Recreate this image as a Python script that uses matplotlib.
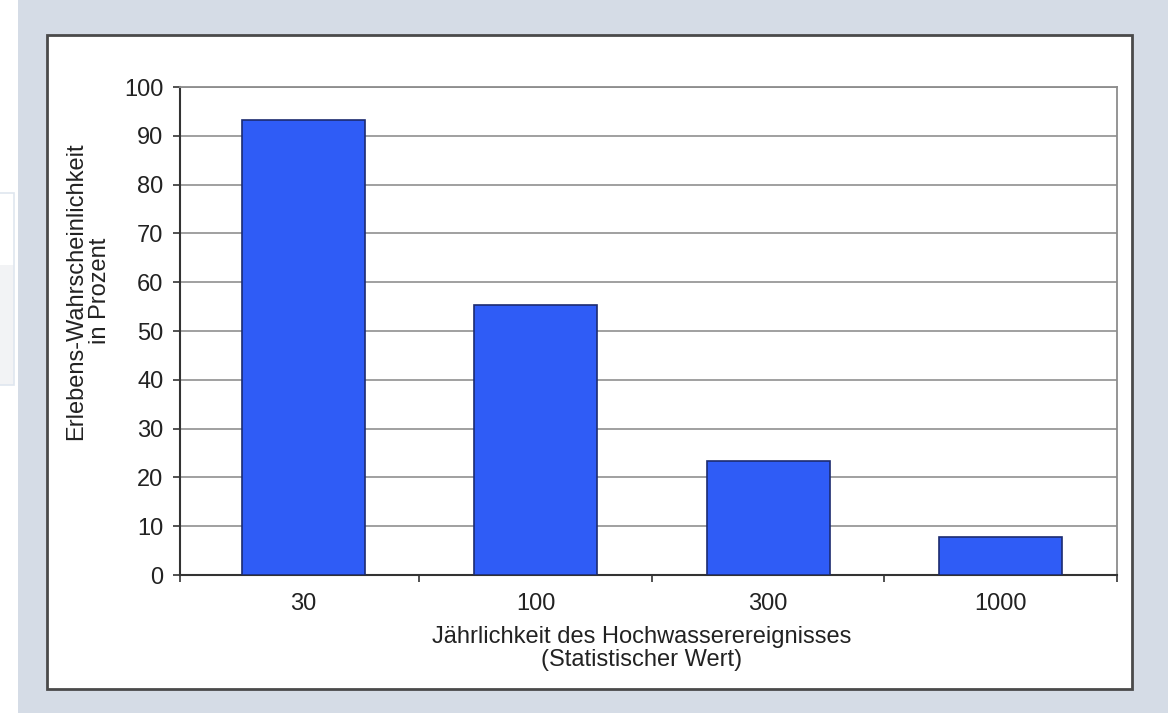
import matplotlib.pyplot as plt
from matplotlib.patches import Rectangle
import numpy as np

plt.rcParams['font.family'] = ['Liberation Sans', 'DejaVu Sans']

categories = ['30', '100', '300', '1000']
values = [93.3, 55.3, 23.3, 7.7]
y_ticks = [0, 10, 20, 30, 40, 50, 60, 70, 80, 90, 100]

W, H = 1168, 713
fig = plt.figure(figsize=(W / 100, H / 100), dpi=100, facecolor='#d5dce6')

def px(x0, y0, x1, y1):
    # pixel box -> figure fraction rect
    return (x0 / W, 1 - y1 / H, (x1 - x0) / W, (y1 - y0) / H)

def panel(box, **kw):
    l, b, w, h = px(*box)
    fig.patches.append(Rectangle((l, b), w, h, transform=fig.transFigure, zorder=-5, **kw))

# web page leftovers on the left edge
panel((0, 0, 18, H), facecolor='white', edgecolor='none')
panel((-2, 265, 14, 385), facecolor='#f2f3f5', edgecolor='none')
panel((-2, 193, 14, 385), facecolor='none', edgecolor='#dfe6ef', lw=1.2)

# white chart panel with dark frame
panel((47, 35, 1132, 689), facecolor='white', edgecolor='#4a4a4a', lw=2.0)

ax = fig.add_axes(px(180, 87, 1117, 575))
x = np.arange(len(categories))
ax.bar(x, values, width=0.53, color='#2f5cf6', edgecolor='#1c2b70', linewidth=1.2, zorder=3)

ax.set_xlim(-0.53, len(categories) - 0.5)
ax.set_ylim(0, 100)
ax.set_yticks(y_ticks)
ax.set_xticks(x)
ax.set_xticklabels(categories)
ax.set_xticks([-0.53, 0.5, 1.5, 2.5, 3.5], minor=True)
ax.tick_params(axis='x', which='major', length=0, pad=13, labelsize=17, labelcolor='#222222')
ax.tick_params(axis='x', which='minor', length=5, width=1.2, color='#333333')
ax.tick_params(axis='y', length=5, width=1.2, color='#333333', pad=7, labelsize=17, labelcolor='#222222')

ax.yaxis.grid(True, color='#999999', lw=1.3, zorder=0)
ax.set_axisbelow(True)
for s in ['left', 'bottom']:
    ax.spines[s].set_color('#333333')
    ax.spines[s].set_linewidth(1.5)
for s in ['top', 'right']:
    ax.spines[s].set_color('#8c8c8c')
    ax.spines[s].set_linewidth(1.3)

ax.set_xlabel('Jährlichkeit des Hochwasserereignisses\n(Statistischer Wert)',
              fontsize=17, color='#222222', linespacing=1.05)
ax.xaxis.label.set_va('top')
ax.xaxis.set_label_coords(0.493, -0.104)

ax.set_ylabel('Erlebens-Wahrscheinlichkeit\nin Prozent', fontsize=17, color='#222222',
              linespacing=1.1)
ax.yaxis.label.set_va('center')
ax.yaxis.set_label_coords(-0.098, 0.582)

fig.savefig('out.png', dpi=100, facecolor=fig.get_facecolor())
